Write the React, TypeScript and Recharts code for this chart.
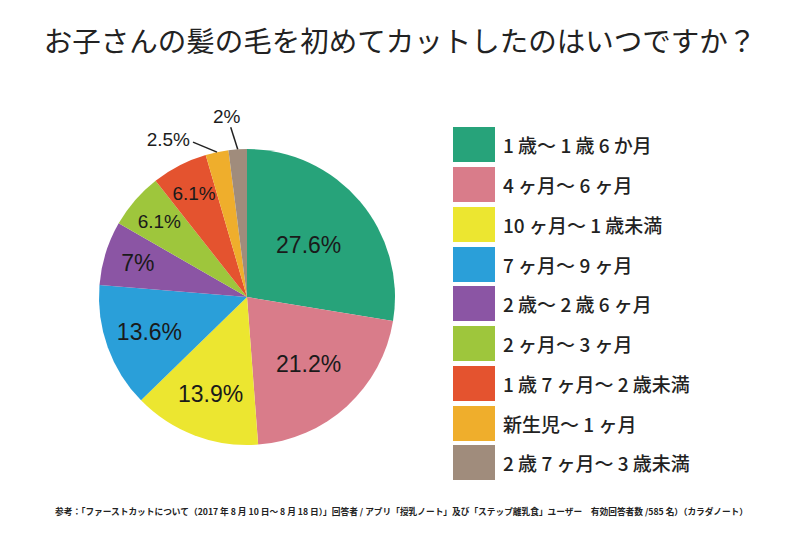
import { PieChart, Pie, Cell, Legend } from 'recharts';

const categories = [
  '1 歳～ 1 歳 6 か月',
  '4 ヶ月～ 6 ヶ月',
  '10 ヶ月～ 1 歳未満',
  '7 ヶ月～ 9 ヶ月',
  '2 歳～ 2 歳 6 ヶ月',
  '2 ヶ月～ 3 ヶ月',
  '1 歳 7 ヶ月～ 2 歳未満',
  '新生児～ 1 ヶ月',
  '2 歳 7 ヶ月～ 3 歳未満',
];
const values = [27.6, 21.2, 13.9, 13.6, 7, 6.1, 6.1, 2.5, 2];
const colors = ['#27a37a', '#d97c8a', '#ece630', '#2a9fd9', '#8b55a4', '#9ec63c', '#e4532f', '#efae2c', '#a08c7c'];

const title = 'お子さんの髪の毛を初めてカットしたのはいつですか？';
const note =
  '参考：「ファーストカットについて（2017 年 8 月 10 日～ 8 月 18 日）」回答者 / アプリ「授乳ノート」及び「ステップ離乳食」ユーザー　有効回答者数 /585 名）（カラダノート）';

const data = categories.map((name, i) => ({ name, value: values[i] }));

const RAD = Math.PI / 180;
const labelFont = '"Liberation Sans", Arial, sans-serif';

// leader line offsets for the two tiny slices
const leaders: Record<number, { dx: number; dy: number }> = {
  7: { dx: -24, dy: -10 },
  8: { dx: -7, dy: -22 },
};

function renderLabel(props: any) {
  const { cx, cy, midAngle, outerRadius, value, index } = props;
  const cos = Math.cos(-midAngle * RAD);
  const sin = Math.sin(-midAngle * RAD);
  const leader = leaders[index];
  if (leader) {
    const sx = cx + outerRadius * cos;
    const sy = cy + outerRadius * sin;
    const ex = sx + leader.dx;
    const ey = sy + leader.dy;
    const horizontal = Math.abs(leader.dx) > Math.abs(leader.dy);
    return (
      <g>
        <line x1={sx} y1={sy} x2={ex} y2={ey} stroke="#222" strokeWidth={1.5} />
        <text
          x={horizontal ? ex - 3 : ex - 4}
          y={horizontal ? ey - 3 : ey - 11}
          textAnchor={horizontal ? 'end' : 'middle'}
          dominantBaseline="central"
          fill="#1c1c1c"
          fontSize={19}
          fontFamily={labelFont}
        >
          {`${value}%`}
        </text>
      </g>
    );
  }
  const r = outerRadius * (0.85 - value * 0.011);
  return (
    <text
      x={cx + r * cos}
      y={cy + r * sin}
      textAnchor="middle"
      dominantBaseline="central"
      fill="#1a1a1a"
      fontSize={value >= 7 ? 23 : 19}
      fontFamily={labelFont}
    >
      {`${value}%`}
    </text>
  );
}

function LegendBox() {
  return (
    <div>
      {categories.map((name, i) => (
        <div key={name} style={{ display: 'flex', alignItems: 'center', height: 39.75 }}>
          <div style={{ width: 42, height: 35, background: colors[i] }} />
          <span
            style={{
              marginLeft: 8,
              fontSize: 19,
              color: '#222',
              fontFamily: '"Noto Sans CJK JP", "Noto Sans", sans-serif',
              fontWeight: 500,
              whiteSpace: 'pre',
            }}
          >
            {name}
          </span>
        </div>
      ))}
    </div>
  );
}

export default function App() {
  return (
    <div style={{ position: 'absolute', left: 0, top: 0, width: 800, height: 534, background: '#fff' }}>
      <div
        style={{
          position: 'absolute',
          left: 0,
          top: 20,
          width: 800,
          textAlign: 'center',
          fontSize: 28.5,
          lineHeight: '40px',
          color: '#222',
          fontFamily: '"Noto Sans CJK JP", sans-serif',
          fontWeight: 400,
          whiteSpace: 'nowrap',
        }}
      >
        {title}
      </div>
      <PieChart width={800} height={534} margin={{ top: 0, right: 0, bottom: 0, left: 0 }}>
        <Pie
          data={data}
          dataKey="value"
          nameKey="name"
          cx={247}
          cy={297}
          outerRadius={148}
          startAngle={90}
          endAngle={-270}
          stroke="none"
          label={renderLabel}
          labelLine={false}
          isAnimationActive={false}
        >
          {data.map((d, i) => (
            <Cell key={d.name} fill={colors[i]} />
          ))}
        </Pie>
        <Legend
          content={() => <LegendBox />}
          wrapperStyle={{ position: 'absolute', left: 453, top: 125, width: 300 }}
        />
      </PieChart>
      <div
        style={{
          position: 'absolute',
          left: 55,
          top: 504,
          fontSize: 8.7,
          lineHeight: '16px',
          color: '#222',
          fontFamily: '"Noto Sans CJK JP", sans-serif',
          fontWeight: 700,
          whiteSpace: 'nowrap',
        }}
      >
        {note}
      </div>
    </div>
  );
}
